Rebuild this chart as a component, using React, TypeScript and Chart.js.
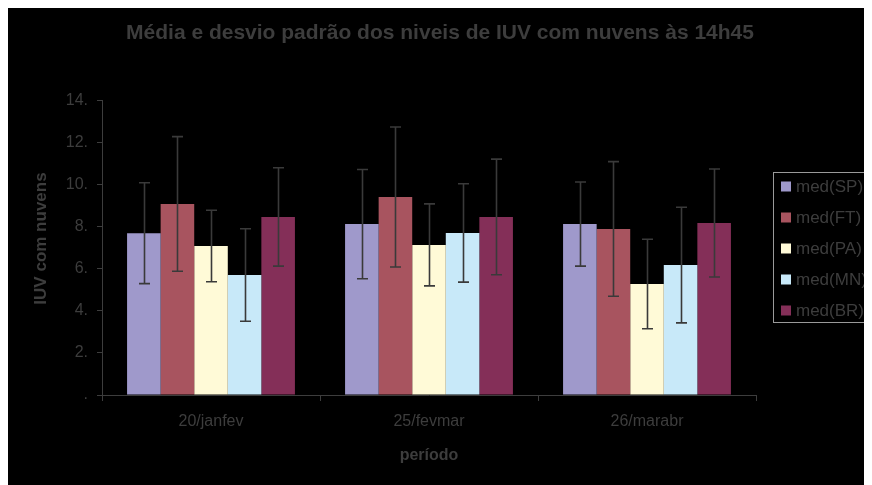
import React, { useEffect, useRef } from 'react';
import { Chart, registerables } from 'chart.js';

Chart.register(...registerables);

const categories = ['20/janfev', '25/fevmar', '26/marabr'];
const seriesLabels = ['med(SP)', 'med(FT)', 'med(PA)', 'med(MN)', 'med(BR)'];
const seriesColors = ['#9F99CB', '#A8545F', '#FFFAD7', '#C8E9F9', '#842F58'];

const medSP = [7.7, 8.13, 8.13];
const medFT = [9.09, 9.42, 7.9];
const medPA = [7.09, 7.14, 5.28];
const medMN = [5.71, 7.71, 6.18];
const medBR = [8.47, 8.47, 8.18];

const sdSP = [2.4, 2.6, 2.0];
const sdFT = [3.2, 3.33, 3.2];
const sdPA = [1.7, 1.95, 2.13];
const sdMN = [2.2, 2.34, 2.75];
const sdBR = [2.34, 2.75, 2.57];

const yTicks = [0, 2, 4, 6, 8, 10, 12, 14];

const titleText = 'Média e desvio padrão dos niveis de IUV com nuvens às 14h45';
const yTitleText = 'IUV com nuvens';
const xTitleText = 'período';

const means = [medSP, medFT, medPA, medMN, medBR];
const sds = [sdSP, sdFT, sdPA, sdMN, sdBR];

const FONT = "'Liberation Sans', Arial, sans-serif";
const TEXT = '#3d3d3d';

const bgPlugin = {
  id: 'bg',
  beforeDraw(chart: any) {
    const { ctx, width, height } = chart;
    ctx.save();
    ctx.fillStyle = '#000000';
    ctx.fillRect(0, 0, width, height);
    ctx.restore();
  },
};

const textPlugin = {
  id: 'texts',
  afterDraw(chart: any) {
    const { ctx, width } = chart;
    ctx.save();
    ctx.fillStyle = TEXT;
    ctx.textAlign = 'center';
    ctx.textBaseline = 'middle';
    ctx.font = `bold 21px ${FONT}`;
    ctx.fillText(titleText, width / 2, 25);
    ctx.translate(33, 230.5);
    ctx.rotate(-Math.PI / 2);
    ctx.font = `bold 17px ${FONT}`;
    ctx.fillText(yTitleText, 0, 0);
    ctx.restore();
  },
};

const errorBarPlugin = {
  id: 'errorBars',
  afterDatasetsDraw(chart: any) {
    const { ctx } = chart;
    const yScale = chart.scales.y;
    ctx.save();
    ctx.strokeStyle = '#3a3a3a';
    ctx.lineWidth = 1.6;
    chart.data.datasets.forEach((ds: any, i: number) => {
      const meta = chart.getDatasetMeta(i);
      meta.data.forEach((bar: any, j: number) => {
        const m = ds.data[j];
        const s = sds[i][j];
        const x = Math.round(bar.x) + 0.5;
        const yTop = yScale.getPixelForValue(m + s);
        const yBot = yScale.getPixelForValue(m - s);
        const cap = 5.5;
        ctx.beginPath();
        ctx.moveTo(x, yTop);
        ctx.lineTo(x, yBot);
        ctx.moveTo(x - cap, yTop);
        ctx.lineTo(x + cap, yTop);
        ctx.moveTo(x - cap, yBot);
        ctx.lineTo(x + cap, yBot);
        ctx.stroke();
      });
    });
    ctx.restore();
  },
};

const legendPlugin = {
  id: 'customLegend',
  afterDraw(chart: any) {
    const { ctx } = chart;
    const bx = 765.5;
    const by = 164.5;
    const bw = 97;
    const bh = 150;
    ctx.save();
    ctx.strokeStyle = '#9a9a9a';
    ctx.lineWidth = 1;
    ctx.strokeRect(bx, by, bw, bh);
    ctx.font = `17px ${FONT}`;
    ctx.textBaseline = 'middle';
    ctx.textAlign = 'left';
    seriesLabels.forEach((lab, i) => {
      const cy = 178.5 + i * 31;
      ctx.fillStyle = seriesColors[i];
      ctx.fillRect(773, cy - 5, 10, 10);
      ctx.fillStyle = TEXT;
      ctx.fillText(lab, 788, cy + 1);
    });
    ctx.restore();
  },
};

export default function App() {
  const ref = useRef<HTMLCanvasElement | null>(null);

  useEffect(() => {
    if (!ref.current) return;
    const chart = new Chart(ref.current, {
      type: 'bar',
      data: {
        labels: categories,
        datasets: seriesLabels.map((lab, i) => ({
          label: lab,
          data: means[i],
          backgroundColor: seriesColors[i],
          borderWidth: 0,
          barPercentage: 1,
          categoryPercentage: 0.77,
        })),
      },
      options: {
        responsive: false,
        animation: false,
        layout: { padding: { left: 0, right: 116, top: 92.7, bottom: 0 } },
        plugins: {
          legend: { display: false },
          tooltip: { enabled: false },
          title: { display: false },
        },
        scales: {
          x: {
            grid: {
              display: true,
              drawOnChartArea: false,
              drawTicks: true,
              tickLength: 6,
              color: TEXT,
              offset: true,
            },
            border: { display: true, color: TEXT, width: 1 },
            ticks: {
              color: TEXT,
              font: { family: FONT, size: 16 },
              padding: 11,
            },
            title: {
              display: true,
              text: xTitleText,
              color: TEXT,
              font: { family: FONT, size: 16, weight: 'bold' },
              padding: { top: 0, bottom: 19.4 },
            },
            afterFit(scale: any) {
              scale.height = 90;
            },
          },
          y: {
            min: 0,
            max: 14,
            afterBuildTicks(scale: any) {
              scale.ticks = yTicks.map((v) => ({ value: v }));
            },
            grid: {
              display: true,
              drawOnChartArea: false,
              drawTicks: true,
              tickLength: 5,
              color: TEXT,
            },
            border: { display: true, color: TEXT, width: 1 },
            ticks: {
              color: TEXT,
              font: { family: FONT, size: 16 },
              padding: 9,
              callback: (v: any) => (Number(v) === 0 ? '.' : `${v}.`),
            },
            title: { display: false },
            afterFit(scale: any) {
              scale.width = 94;
            },
          },
        },
      },
      plugins: [bgPlugin, errorBarPlugin, legendPlugin, textPlugin],
    } as any);
    return () => chart.destroy();
  }, []);

  return <canvas ref={ref} width={864} height={477} style={{ display: 'block' }} />;
}
